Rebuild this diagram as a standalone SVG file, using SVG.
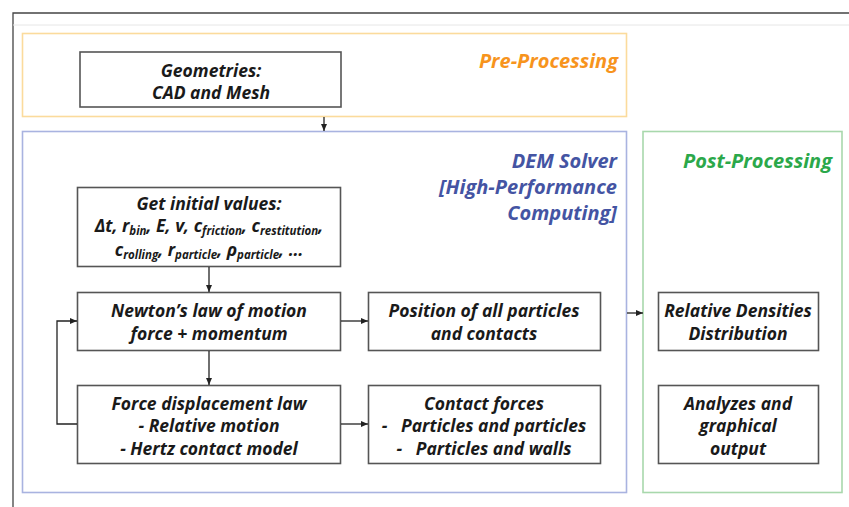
<svg xmlns="http://www.w3.org/2000/svg" width="849" height="507" viewBox="0 0 849 507">
<style>
.t{font-family:"Open Sans",Lato,"DejaVu Sans",sans-serif;font-style:italic;font-weight:bold;fill:#1a1a1a;font-size:17.5px;text-anchor:middle}
.s{font-size:11.5px}
.box{fill:#fff;stroke:#555;stroke-width:1.6}
.h{font-family:"Open Sans",Lato,"DejaVu Sans",sans-serif;font-style:italic;font-weight:bold;font-size:20px;text-anchor:end}
.c{fill:none;stroke:#222;stroke-width:1.3}
</style>
<defs>
<marker id="a" markerWidth="8" markerHeight="8" refX="7" refY="4" orient="auto" markerUnits="userSpaceOnUse">
<path d="M0,1 L7,4 L0,7 z" fill="#222"/>
</marker>
</defs>
<rect width="849" height="507" fill="#fff"/>
<g id="frame">
<path d="M13,507 V13 H849" fill="none" stroke="#444" stroke-width="1.3"/>
<line x1="13" y1="25" x2="849" y2="25" stroke="#e6e6e6" stroke-width="1"/>
</g>
<g id="pre">
<rect x="22.5" y="33.5" width="604" height="83" fill="none" stroke="#FBDB9C" stroke-width="1.6"/>
<text class="h" x="618" y="68" fill="#F7941D">Pre-Processing</text>
</g>
<g id="dem">
<rect x="22.5" y="131.5" width="604" height="361" fill="none" stroke="#A9B3E0" stroke-width="1.6"/>
<text class="h" x="617" y="168" fill="#4454A3">DEM Solver</text>
<text class="h" x="617" y="194" fill="#4454A3">[High-Performance</text>
<text class="h" x="617" y="220" fill="#4454A3">Computing]</text>
</g>
<g id="post">
<rect x="643" y="131.5" width="199" height="361" fill="none" stroke="#A8D8AC" stroke-width="1.6"/>
<text class="h" x="832" y="168" fill="#2BA84A">Post-Processing</text>
</g>
<g id="geom">
<rect class="box" x="80" y="52" width="261" height="55"/>
<text class="t" x="211" y="77">Geometries:</text>
<text class="t" x="211" y="99">CAD and Mesh</text>
</g>
<g id="init">
<rect class="box" x="77.5" y="187.5" width="263" height="79"/>
<text class="t" x="209" y="210">Get initial values:</text>
<text class="t" x="209" y="232">Δt, r<tspan class="s" dy="3">bin</tspan><tspan dy="-3">, E, v, c</tspan><tspan class="s" dy="3">friction</tspan><tspan dy="-3">, c</tspan><tspan class="s" dy="3">restitution</tspan><tspan dy="-3">,</tspan></text>
<text class="t" x="209" y="256">c<tspan class="s" dy="3">rolling</tspan><tspan dy="-3">, r</tspan><tspan class="s" dy="3">particle</tspan><tspan dy="-3">, ρ</tspan><tspan class="s" dy="3">particle</tspan><tspan dy="-3">, …</tspan></text>
</g>
<g id="newton">
<rect class="box" x="77.5" y="292.5" width="263" height="58"/>
<text class="t" x="209" y="317">Newton’s law of motion</text>
<text class="t" x="209" y="340">force + momentum</text>
</g>
<g id="position">
<rect class="box" x="368.5" y="292.5" width="232" height="58"/>
<text class="t" x="484" y="317">Position of all particles</text>
<text class="t" x="484" y="340">and contacts</text>
</g>
<g id="force">
<rect class="box" x="77.5" y="385.5" width="263" height="78"/>
<text class="t" x="209" y="410">Force displacement law</text>
<text class="t" x="209" y="432">- Relative motion</text>
<text class="t" x="209" y="455">- Hertz contact model</text>
</g>
<g id="contact">
<rect class="box" x="368.5" y="385.5" width="232" height="78"/>
<text class="t" x="484" y="410">Contact forces</text>
<text class="t" x="484" y="432" xml:space="preserve">-   Particles and particles</text>
<text class="t" x="484" y="455" xml:space="preserve">-   Particles and walls</text>
</g>
<g id="reldens">
<rect class="box" x="658.5" y="292.5" width="160" height="58"/>
<text class="t" x="738" y="317">Relative Densities</text>
<text class="t" x="738" y="340">Distribution</text>
</g>
<g id="analyzes">
<rect class="box" x="658.5" y="385.5" width="160" height="78"/>
<text class="t" x="738" y="410">Analyzes and</text>
<text class="t" x="738" y="432">graphical</text>
<text class="t" x="738" y="455">output</text>
</g>
<g id="connectors">
<line class="c" x1="324" y1="117" x2="324" y2="131" marker-end="url(#a)"/>
<line class="c" x1="209" y1="267" x2="209" y2="292" marker-end="url(#a)"/>
<line class="c" x1="209" y1="351" x2="209" y2="385" marker-end="url(#a)"/>
<line class="c" x1="341" y1="321" x2="368" y2="321" marker-end="url(#a)"/>
<line class="c" x1="341" y1="424" x2="368" y2="424" marker-end="url(#a)"/>
<polyline class="c" points="77,424 57,424 57,321 77,321" marker-end="url(#a)"/>
<line class="c" x1="627" y1="313" x2="643" y2="313" marker-end="url(#a)"/>
</g>
</svg>
